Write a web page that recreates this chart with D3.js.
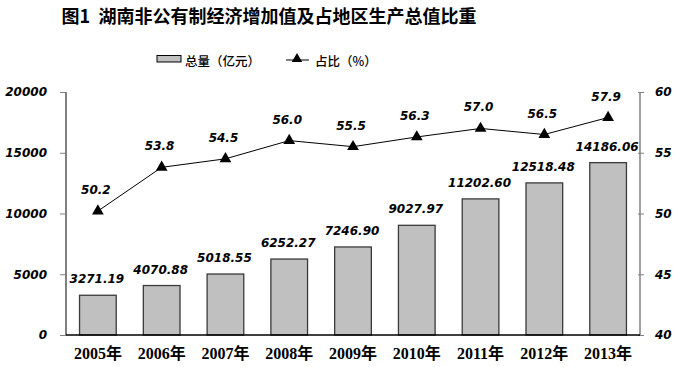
<!DOCTYPE html>
<html><head><meta charset="utf-8">
<script src="https://cdn.jsdelivr.net/npm/d3@7"></script>
<style>body{margin:0;background:#fff}svg{display:block}
.num{font-family:'DejaVu Sans',Verdana,sans-serif;font-weight:bold;font-style:italic;font-size:12px;fill:#000}
</style>
</head><body><svg id="c" width="680" height="367"></svg>
<script>
const years = ["2005年","2006年","2007年","2008年","2009年","2010年","2011年","2012年","2013年"];
const totals = [3271.19,4070.88,5018.55,6252.27,7246.90,9027.97,11202.60,12518.48,14186.06];
const shares = [50.2,53.8,54.5,56.0,55.5,56.3,57.0,56.5,57.9];
const leftTicks = [0,5000,10000,15000,20000];
const rightTicks = [40,45,50,55,60];
const titleText = "图1  湖南非公有制经济增加值及占地区生产总值比重";
const legendBar = "总量（亿元）";
const legendLine = "占比（%）";

const svg = d3.select("#c");
const L = 66, R = 640, T = 92, B = 335;
const x = d3.scaleBand().domain(years).range([L, R]).paddingInner(0.425).paddingOuter(0.2125);
const yL = d3.scaleLinear().domain([0,20000]).range([B,T]);
const yR = d3.scaleLinear().domain([40,60]).range([B,T]);
const cjk = "'Noto Sans CJK SC', sans-serif";

svg.append("text").attr("x",269).attr("y",23).attr("text-anchor","middle")
  .attr("font-family",cjk).attr("font-weight",700).attr("font-size",18).attr("fill","#000")
  .style("white-space","pre").attr("xml:space","preserve")
  .text(titleText);

// legend
svg.append("rect").attr("x",157).attr("y",55.5).attr("width",24).attr("height",6.5)
  .attr("fill","#c0c0c0").attr("stroke","#000").attr("stroke-width",1);
svg.append("text").attr("x",185).attr("y",66).attr("font-family",cjk).attr("font-weight",500).attr("font-size",12.5).text(legendBar);
svg.append("line").attr("x1",286).attr("x2",309).attr("y1",60).attr("y2",60).attr("stroke","#000");
svg.append("path").attr("d",d3.symbol(d3.symbolTriangle,48)()).attr("transform","translate(297,59)").attr("fill","#000");
svg.append("text").attr("x",315).attr("y",66).attr("font-family",cjk).attr("font-weight",500).attr("font-size",12.5).text(legendLine);

// bars
svg.selectAll("rect.bar").data(totals).join("rect").attr("class","bar")
  .attr("x",(d,i)=>x(years[i])).attr("width",x.bandwidth())
  .attr("y",d=>yL(d)).attr("height",d=>B-yL(d))
  .attr("fill","#c0c0c0").attr("stroke","#3a3a3a").attr("stroke-width",1.3);

// left axis
const gl = svg.append("g").attr("transform",`translate(${L},0)`)
  .call(d3.axisLeft(yL).tickValues(leftTicks).tickSize(6).tickPadding(13).tickFormat(d3.format("d")));
gl.select(".domain").remove();
gl.append("line").attr("x1",0).attr("x2",0).attr("y1",T).attr("y2",B).attr("stroke","#808080").attr("stroke-width",2);
gl.selectAll(".tick line").attr("stroke","#808080");
gl.selectAll("text").attr("class","num");

// right axis
const gr = svg.append("g").attr("transform",`translate(${R},0)`)
  .call(d3.axisRight(yR).tickValues(rightTicks).tickSize(4).tickPadding(11));
gr.select(".domain").remove();
gr.append("line").attr("x1",0).attr("x2",0).attr("y1",T).attr("y2",B).attr("stroke","#808080").attr("stroke-width",1.5);
gr.selectAll(".tick line").attr("stroke","#808080").attr("x1",-2);
gr.selectAll("text").attr("class","num");
svg.selectAll(".tick text").attr("font-family",null).attr("font-size",null);
gl.attr("font-family",null).attr("font-size",null);
gr.attr("font-family",null).attr("font-size",null);

// bottom axis
const gb = svg.append("g").attr("transform",`translate(0,${B})`)
  .call(d3.axisBottom(x).tickSize(0).tickPadding(13));
gb.select(".domain").attr("stroke","#000").attr("stroke-width",1.5).attr("d",`M${L},0H${R}`);
gb.selectAll("text").attr("font-family","'Liberation Serif', 'Noto Sans CJK SC', serif").attr("font-weight","bold").attr("font-size",16).attr("fill","#000").attr("dy","0.71em");

// bar labels
svg.selectAll("text.bl").data(totals).join("text").attr("class","bl num")
  .attr("x",(d,i)=>x(years[i])+x.bandwidth()/2-1).attr("y",d=>yL(d)-12)
  .attr("text-anchor","middle")
  .text(d=>d.toFixed(2));

// line
const cx = i => x(years[i])+x.bandwidth()/2;
svg.append("path").datum(shares)
  .attr("d",d3.line().x((d,i)=>cx(i)).y(d=>yR(d)))
  .attr("fill","none").attr("stroke","#000").attr("stroke-width",1);
svg.selectAll("path.pt").data(shares).join("path").attr("class","pt")
  .attr("d",d3.symbol(d3.symbolTriangle,60)())
  .attr("transform",(d,i)=>`translate(${cx(i)},${yR(d)})`).attr("fill","#000");
svg.selectAll("text.pl").data(shares).join("text").attr("class","pl num")
  .attr("x",(d,i)=>cx(i)-2).attr("y",d=>yR(d)-17)
  .attr("text-anchor","middle")
  .text(d=>d.toFixed(1));
</script></body></html>
